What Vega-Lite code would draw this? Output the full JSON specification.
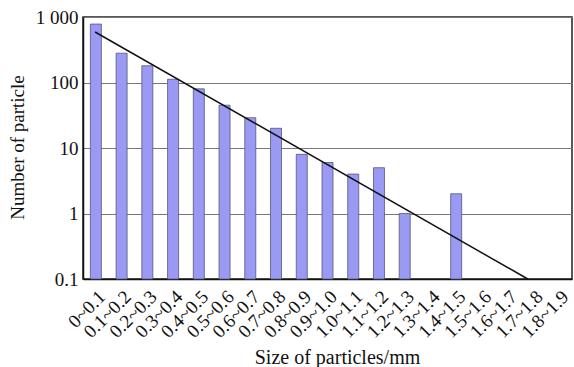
{
  "$schema": "https://vega.github.io/schema/vega-lite/v6.json",
  "width": 489,
  "height": 262,
  "autosize": {"type": "none"},
  "padding": {"left": 83, "top": 17, "right": 2, "bottom": 88},
  "background": "white",
  "config": {
    "view": {"stroke": "#222", "strokeWidth": 1.5},
    "font": "Liberation Serif",
    "axis": {"labelFont": "Liberation Serif", "titleFont": "Liberation Serif", "labelColor": "#111", "titleColor": "#111", "titleFontWeight": "normal"}
  },
  "datasets": {
    "bars": [
      {"size": "0~0.1", "count": 780},
      {"size": "0.1~0.2", "count": 280},
      {"size": "0.2~0.3", "count": 180},
      {"size": "0.3~0.4", "count": 112},
      {"size": "0.4~0.5", "count": 80},
      {"size": "0.5~0.6", "count": 45},
      {"size": "0.6~0.7", "count": 29},
      {"size": "0.7~0.8", "count": 20},
      {"size": "0.8~0.9", "count": 8},
      {"size": "0.9~1.0", "count": 6},
      {"size": "1.0~1.1", "count": 4},
      {"size": "1.1~1.2", "count": 5},
      {"size": "1.2~1.3", "count": 1},
      {"size": "1.4~1.5", "count": 2}
    ],
    "trend": [
      {"pos": 0.47, "value": 590},
      {"pos": 17.28, "value": 0.1}
    ]
  },
  "layer": [
    {
      "data": {"name": "bars"},
      "mark": {"type": "bar", "width": 11, "fill": "#9a9af4", "stroke": "#555577", "strokeWidth": 0.8},
      "encoding": {
        "x": {
          "field": "size", "type": "ordinal", "sort": null,
          "scale": {"domain": ["0~0.1", "0.1~0.2", "0.2~0.3", "0.3~0.4", "0.4~0.5", "0.5~0.6", "0.6~0.7", "0.7~0.8", "0.8~0.9", "0.9~1.0", "1.0~1.1", "1.1~1.2", "1.2~1.3", "1.3~1.4", "1.4~1.5", "1.5~1.6", "1.6~1.7", "1.7~1.8", "1.8~1.9"], "paddingInner": 0, "paddingOuter": 0},
          "axis": {"title": "Size of particles/mm", "titleFontSize": 20, "titleX": 254, "titleY": 84, "titleBaseline": "alphabetic", "labelAngle": -45, "labelFontSize": 19, "ticks": false, "labelPadding": 8, "domain": true, "domainColor": "#111", "domainWidth": 1.5}
        },
        "y": {
          "field": "count", "type": "quantitative",
          "scale": {"type": "log", "domain": [0.1, 1000], "nice": false},
          "axis": {"title": "Number of particle", "titleFontSize": 19, "titleX": -66, "titleY": 130, "titleBaseline": "middle", "values": [0.1, 1, 10, 100, 1000], "labelExpr": "datum.value == 1000 ? '1 000' : datum.value == 0.1 ? '0.1' : datum.label", "labelFontSize": 19, "ticks": false, "labelPadding": 5, "grid": true, "gridColor": "#777", "gridWidth": 1, "domainColor": "#111", "domainWidth": 1.5}
        },
        "y2": {"datum": 0.1}
      }
    },
    {
      "data": {"name": "trend"},
      "mark": {"type": "line", "color": "#111", "strokeWidth": 1.5},
      "encoding": {
        "x": {"field": "pos", "type": "quantitative", "scale": {"domain": [0, 19], "nice": false, "zero": false}, "axis": null},
        "y": {"field": "value", "type": "quantitative", "scale": {"type": "log", "domain": [0.1, 1000], "nice": false}}
      }
    }
  ],
  "resolve": {"scale": {"x": "independent"}}
}
